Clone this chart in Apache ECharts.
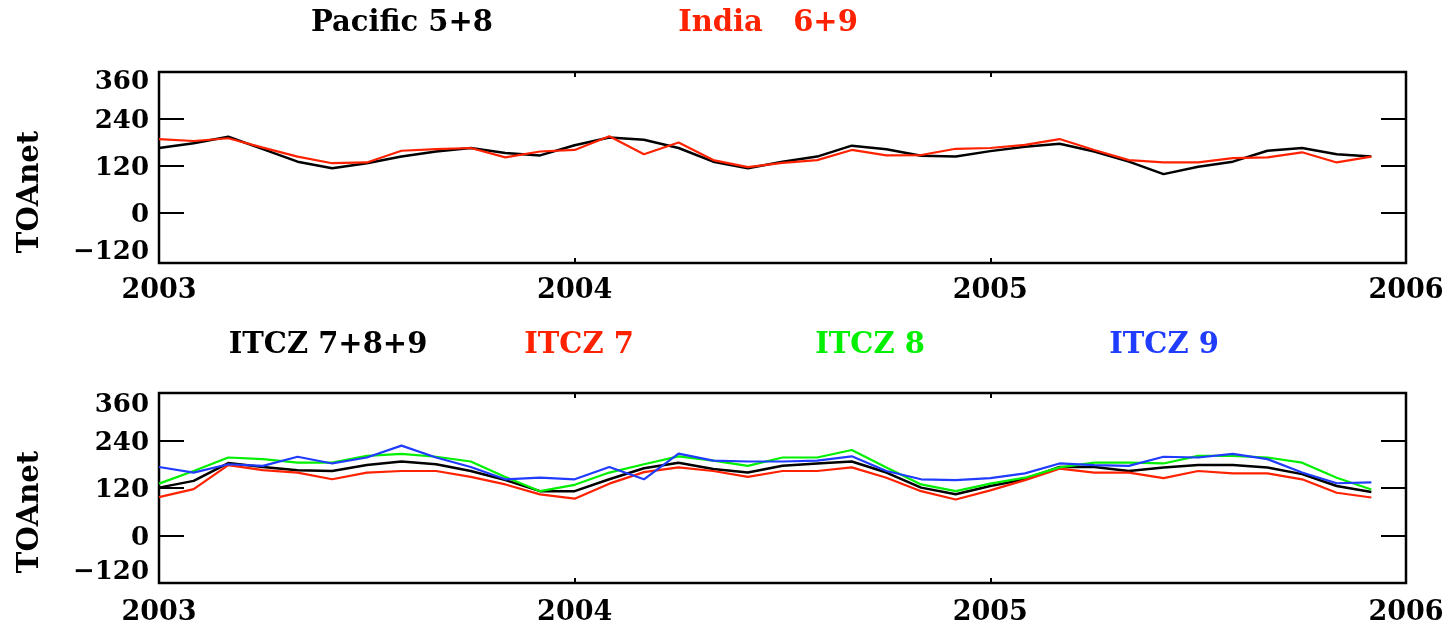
<!DOCTYPE html>
<html>
<head>
<meta charset="utf-8">
<script src="https://cdn.jsdelivr.net/npm/echarts@6/dist/echarts.min.js"></script>
<style>
html,body{margin:0;padding:0;background:#fff;}
#chart{width:1448px;height:630px;}
</style>
</head>
<body>
<div id="chart"></div>
<script>
// Monthly samples, Jan 2003 .. Dec 2005
const months = ['2003-01','2003-02','2003-03','2003-04','2003-05','2003-06','2003-07','2003-08','2003-09','2003-10','2003-11','2003-12',
                '2004-01','2004-02','2004-03','2004-04','2004-05','2004-06','2004-07','2004-08','2004-09','2004-10','2004-11','2004-12',
                '2005-01','2005-02','2005-03','2005-04','2005-05','2005-06','2005-07','2005-08','2005-09','2005-10','2005-11','2005-12'];

// Top panel
const pacific58 = [165,177,194,162,130,113,126,143,156,165,152,146,
                   172,192,186,165,130,113,130,143,171,162,145,143,
                   157,168,176,156,130,98,117,130,158,165,149,143];
const india69   = [188,183,190,166,143,126,128,158,162,165,141,156,
                   160,195,149,179,134,116,127,134,160,146,147,163,
                   165,173,188,160,134,128,128,139,141,154,128,143];

// Bottom panel
const itcz789 = [121,138,183,173,165,163,178,187,180,163,140,112,
                 112,142,170,184,168,159,176,182,187,159,121,104,
                 125,142,173,173,163,172,178,178,172,155,125,110];
const itcz7   = [97,117,178,165,159,142,159,163,163,148,129,104,
                 93,131,160,172,163,148,163,163,172,146,112,91,
                 114,140,169,159,159,145,163,157,157,142,108,96];
const itcz8   = [131,163,197,193,184,184,201,206,199,187,148,112,
                 128,159,180,200,189,176,197,197,216,172,129,112,
                 131,146,172,184,184,182,201,201,197,184,146,116];
const itcz9   = [173,159,180,176,199,182,197,227,197,173,142,146,
                 142,173,142,207,189,187,187,189,200,163,142,140,
                 145,157,182,178,176,199,197,206,193,159,132,134];

const yTickValues  = [0,120,240];
const yLabelValues = [-120,0,120,240,360];
const xYears = [2003, 2004, 2005, 2006];

const FONT = 'DejaVu Serif';
const C_BLACK = '#000000', C_RED = '#ff2200', C_GREEN = '#00f000', C_BLUE = '#1f3cff';

function decYear(m){ const p = m.split('-'); return +p[0] + (+p[1]-1)/12; }
function pairs(vals){ return months.map((m,i)=>[decYear(m), vals[i]]); }

function yLabelFmt(v){
  if (v === 360) return '{t|360}';
  if (v === -120) return '{b|\u2212120}';
  return '{n|' + v + '}';
}
function makeRich(topPad, botPad){
  const base = {fontFamily:FONT, fontWeight:'bold', fontSize:26, color:'#000'};
  return {
    t: Object.assign({padding:[topPad,0,0,0]}, base),
    b: Object.assign({padding:[0,0,botPad,0]}, base),
    n: Object.assign({padding:[5,0,0,0]}, base)
  };
}

function xAxes(gi, margin){
  return [
    {type:'value', gridIndex:gi, position:'bottom', min:xYears[0], max:xYears[xYears.length-1], interval:1,
     axisLine:{show:false, onZero:false}, splitLine:{show:false},
     axisTick:{show:true, inside:true, length:5, lineStyle:{color:'#000', width:2}},
     axisLabel:{show:true, margin:margin, fontFamily:FONT, fontWeight:'bold', fontSize:27, color:'#000',
                formatter:v=>String(v)}},
    {type:'value', gridIndex:gi, position:'top', min:xYears[0], max:xYears[xYears.length-1], interval:1,
     axisLine:{show:false, onZero:false}, splitLine:{show:false}, axisLabel:{show:false},
     axisTick:{show:true, inside:true, length:5, lineStyle:{color:'#000', width:2}}}
  ];
}
function yAxes(gi, min, topPad, botPad){
  return [
    {type:'value', gridIndex:gi, position:'left', min:min, max:360,
     axisLine:{show:false, onZero:false}, splitLine:{show:false},
     axisTick:{show:true, inside:true, length:25, customValues:yTickValues, lineStyle:{color:'#000', width:2}},
     axisLabel:{show:true, margin:10, customValues:yLabelValues, formatter:yLabelFmt, rich:makeRich(topPad, botPad)}},
    {type:'value', gridIndex:gi, position:'right', min:min, max:360,
     axisLine:{show:false, onZero:false}, splitLine:{show:false}, axisLabel:{show:false},
     axisTick:{show:true, inside:true, length:25, customValues:yTickValues, lineStyle:{color:'#000', width:2}}}
  ];
}
function line(name, vals, color, xi, yi, w){
  return {type:'line', name:name, data:pairs(vals), xAxisIndex:xi, yAxisIndex:yi,
          showSymbol:false, symbol:'none', lineStyle:{color:color, width:w}, itemStyle:{color:color},
          z:3, animation:false};
}
function label(text, x, y, color, rot){
  return {type:'text', x:x, y:y, rotation:rot||0,
          style:{text:text, fill:color, font:'bold 29px "'+FONT+'"', align:'center', verticalAlign:'middle'}};
}

const chart = echarts.init(document.getElementById('chart'), null, {renderer:'canvas'});
chart.setOption({
  animation:false,
  backgroundColor:'#ffffff',
  grid:[
    {left:159, top:72, width:1247, height:191, show:true, borderColor:'#000', borderWidth:2.5, backgroundColor:'transparent'},
    {left:159, top:393, width:1247, height:190, show:true, borderColor:'#000', borderWidth:2.5, backgroundColor:'transparent'}
  ],
  xAxis: xAxes(0, 14).concat(xAxes(1, 16)),
  yAxis: yAxes(0, -130, 20, 14).concat(yAxes(1, -120, 24, 22)),
  series:[
    line('Pacific 5+8', pacific58, C_BLACK, 0, 0, 2.5),
    line('India 6+9', india69, C_RED, 0, 0, 2.2),
    line('ITCZ 7+8+9', itcz789, C_BLACK, 2, 2, 2.5),
    line('ITCZ 7', itcz7, C_RED, 2, 2, 2.2),
    line('ITCZ 8', itcz8, C_GREEN, 2, 2, 2.2),
    line('ITCZ 9', itcz9, C_BLUE, 2, 2, 2.2)
  ],
  graphic:[
    label('Pacific 5+8', 402, 23, C_BLACK),
    label('India   6+9', 768, 23, C_RED),
    label('ITCZ 7+8+9', 328, 345, C_BLACK),
    label('ITCZ 7', 579, 345, C_RED),
    label('ITCZ 8', 870, 345, C_GREEN),
    label('ITCZ 9', 1164, 345, C_BLUE),
    label('TOAnet', 30, 192, C_BLACK, Math.PI/2),
    label('TOAnet', 30, 512, C_BLACK, Math.PI/2)
  ]
});
</script>
</body>
</html>
